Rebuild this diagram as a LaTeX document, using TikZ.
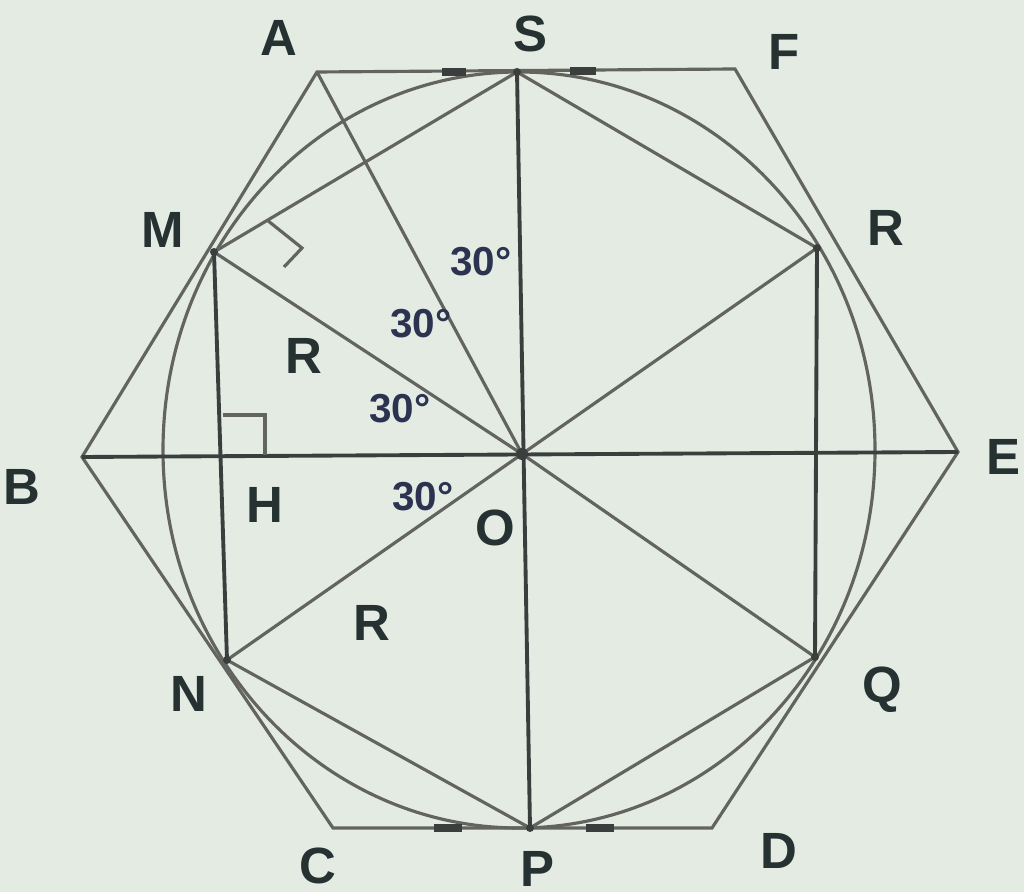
\documentclass[tikz,border=0pt]{standalone}
\usepackage{fontspec}
\setmainfont{Liberation Sans}
\usetikzlibrary{calc}
\definecolor{bgcol}{HTML}{E4EBE3}
\definecolor{linecol}{HTML}{63645F}
\definecolor{darkline}{HTML}{3A3F3E}
\definecolor{txtcol}{HTML}{263232}
\definecolor{angcol}{HTML}{2B3350}
\tikzset{
    vertex/.style = {coordinate},
    ptlabel/.style = {inner sep=0pt, text=txtcol,
        font=\fontsize{14.5}{16}\selectfont\bfseries},
    anglabel/.style = {inner sep=0pt, text=angcol,
        font=\fontsize{11.5}{13}\selectfont\bfseries},
    hexline/.style = {draw=linecol, line width=0.9pt},
    axisline/.style = {draw=darkline, line width=1.1pt},
    tickmark/.style = {draw=darkline, line width=2.4pt},
    dotpt/.style = {fill=darkline},
}

\begin{document}
\begin{tikzpicture}[x=0.1mm, y=-0.1mm]
		\fill [bgcol] (0,0) rectangle (1024,892);
		\useasboundingbox (0,0) rectangle (1024,892);

		% hexagon vertices
		\node [vertex] (A) at (317,72) {};
		\node [vertex] (F) at (735,69) {};
		\node [vertex] (E) at (958,452) {};
		\node [vertex] (D) at (712,828) {};
		\node [vertex] (C) at (333,828) {};
		\node [vertex] (B) at (82,457) {};

		% centre and points on the circle
		\node [vertex] (O) at (522,454) {};
		\node [vertex] (ctr) at (519,450) {};
		\node [vertex] (S) at (517,72) {};
		\node [vertex] (R) at (817,248) {};
		\node [vertex] (Q) at (815,657) {};
		\node [vertex] (P) at (530,828) {};
		\node [vertex] (N) at (227,660) {};
		\node [vertex] (M) at (214,252) {};
		\node [vertex] (H) at (221,455) {};

		%% hexagon and circle
		\draw [hexline] (A) -- (F) -- (E) -- (D) -- (C) -- (B) -- cycle;
		\draw [hexline] (ctr) ellipse [x radius=356, y radius=378];

		%% connecting lines
		\draw [axisline] (S) -- (P);
		\draw [axisline] (B) -- (E);
		\draw [axisline] (M) -- (N);
		\draw [axisline] (R) -- (Q);
		\draw [hexline] (M) -- (S) -- (R);
		\draw [hexline] (N) -- (P) -- (Q);
		\draw [hexline] (O) -- (M);
		\draw [hexline] (O) -- (R);
		\draw [hexline] (O) -- (Q);
		\draw [hexline] (O) -- (N);
		\draw [hexline] (O) -- (A);

		%% marks
		\draw [hexline] ($(H)+(2,-40)$) -- ($(H)+(44,-40)$) -- ($(H)+(44,0)$);
		\draw [hexline] ($(M)+(53,-32)$) -- ($(M)+(88,-4)$) -- ($(M)+(70,15)$);
		\draw [tickmark] (442,72) -- (466,72);
		\draw [tickmark] (570,71) -- (596,71);
		\draw [tickmark] (434,828) -- (462,828);
		\draw [tickmark] (586,828) -- (614,828);
		\fill [dotpt] (O) circle [radius=6];
		\foreach \p in {M,N,Q,R,S,P}
			\fill [dotpt] (\p) circle [radius=4];

		%% labels
		\node [ptlabel] (labA) at (279,38) {A};
		\node [ptlabel] (labS) at (530,34) {S};
		\node [ptlabel] (labF) at (784,52) {F};
		\node [ptlabel] (labR) at (886,228) {R};
		\node [ptlabel] (labE) at (1003,457) {E};
		\node [ptlabel] (labQ) at (882,690) {Q};
		\node [ptlabel] (labD) at (779,851) {D};
		\node [ptlabel] (labP) at (537,869) {P};
		\node [ptlabel] (labC) at (318,866) {C};
		\node [ptlabel] (labN) at (189,694) {N};
		\node [ptlabel] (labB) at (22,487) {B};
		\node [ptlabel] (labM) at (163,230) {M};
		\node [ptlabel] (labH) at (265,505) {H};
		\node [ptlabel] (labO) at (495,528) {O};
		\node [ptlabel] (labRa) at (304,356) {R};
		\node [ptlabel] (labRb) at (372,623) {R};

		\node [anglabel] (ang1) at (481,262) {30°};
		\node [anglabel] (ang2) at (421,324) {30°};
		\node [anglabel] (ang3) at (400,409) {30°};
		\node [anglabel] (ang4) at (423,497) {30°};

	\end{tikzpicture}
\end{document}
